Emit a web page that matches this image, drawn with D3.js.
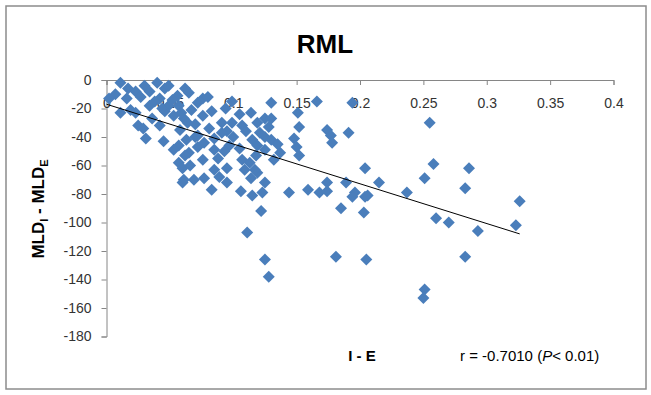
<!DOCTYPE html>
<html>
<head>
<meta charset="utf-8">
<script src="https://cdn.jsdelivr.net/npm/d3@7"></script>
<style>
  body { margin: 0; background: #fff; }
  svg { display: block; }
</style>
</head>
<body>
<script>
// ---- data ----
const xValues = [
  0.011, 0.017, 0.023, 0.030, 0.034, 0.040, 0.046, 0.049, 0.056, 0.062, 0.065, 0.027, 0.007, 0.002,
  0.076, 0.080, 0.072, 0.094, 0.099, 0.130, 0.166, 0.194, 0.042, 0.016,
  0.011, 0.019, 0.023, 0.034, 0.036, 0.046, 0.049, 0.053, 0.061, 0.057, 0.067, 0.076, 0.083, 0.091,
  0.099, 0.105, 0.114, 0.119, 0.125, 0.130, 0.151, 0.152, 0.107, 0.095, 0.025, 0.029, 0.042, 0.070,
  0.058, 0.081,
  0.031, 0.045, 0.063, 0.072, 0.077, 0.085, 0.091, 0.105, 0.115, 0.119, 0.125, 0.130, 0.121, 0.148,
  0.150, 0.152, 0.174, 0.177, 0.178, 0.191, 0.065, 0.076, 0.107, 0.118, 0.125, 0.132, 0.137, 0.097,
  0.085, 0.057, 0.053,
  0.057, 0.060, 0.085, 0.089, 0.095, 0.109, 0.119, 0.061, 0.069, 0.077, 0.060, 0.083, 0.095, 0.106,
  0.115, 0.123, 0.114, 0.125, 0.258, 0.255, 0.204, 0.286, 0.251, 0.174, 0.189, 0.215, 0.283, 0.144,
  0.159, 0.168, 0.174, 0.196, 0.206, 0.237, 0.326, 0.194, 0.204,
  0.185, 0.203, 0.260, 0.270, 0.293, 0.323, 0.122, 0.111, 0.181, 0.205, 0.283, 0.125, 0.128, 0.251,
  0.250,
  0.038, 0.044, 0.052, 0.059, 0.064, 0.070, 0.062, 0.066, 0.072, 0.088, 0.093, 0.100, 0.110, 0.113,
  0.135, 0.128, 0.117
];
const yValues = [
  -2, -6, -8, -4, -8, -2, -6, -4, -11, -6, -9, -12, -10, -13,
  -13, -12, -16, -20, -15, -16, -15, -16, -13, -13,
  -23, -21, -23, -18, -27, -22, -18, -25, -27, -18, -21, -25, -22, -30,
  -30, -24, -23, -30, -27, -27, -23, -33, -32, -36, -32, -34, -32, -31,
  -35, -34,
  -41, -43, -42, -39, -44, -41, -37, -48, -42, -46, -40, -42, -37, -41,
  -47, -53, -35, -39, -44, -37, -51, -56, -56, -53, -49, -56, -51, -46,
  -49, -46, -49,
  -58, -62, -63, -68, -62, -63, -65, -70, -70, -69, -72, -77, -72, -78,
  -81, -79, -69, -72, -59, -30, -62, -62, -69, -72, -72, -72, -76, -79,
  -77, -79, -78, -79, -81, -79, -85, -82, -82,
  -90, -93, -97, -100, -106, -102, -92, -107, -124, -126, -124, -126, -138, -147,
  -153,
  -15, -20, -14, -23, -30, -40, -53, -60, -47, -55, -50, -40, -36, -58,
  -45, -33, -63
];
const xTicks = [0, 0.05, 0.1, 0.15, 0.2, 0.25, 0.3, 0.35, 0.4];
const xTickLabels = ["0", "0.05", "0.1", "0.15", "0.2", "0.25", "0.3", "0.35", "0.4"];
const yTicks = [0, -20, -40, -60, -80, -100, -120, -140, -160, -180];
const trendX = [0, 0.326];
const trendY = [-17, -108];
const titleText = "RML";
const xAxisTitle = "I - E";

// ---- drawing ----
const W = 651, H = 395;
const svg = d3.select("body").append("svg").attr("width", W).attr("height", H);

svg.append("rect").attr("x", 6).attr("y", 6).attr("width", 640).attr("height", 383)
  .attr("fill", "#fff").attr("stroke", "#8c8c8c").attr("stroke-width", 1.5);

const x = d3.scaleLinear().domain([0, 0.4]).range([106.5, 613.5]);
const y = d3.scaleLinear().domain([-180, 0]).range([336.5, 80]);

const font = "'Liberation Sans', Arial, sans-serif";

// title
svg.append("text").attr("x", 325).attr("y", 53).attr("text-anchor", "middle")
  .attr("font-family", font).attr("font-weight", "bold").attr("font-size", 26)
  .attr("fill", "#000").text(titleText);

// y axis
const yAxis = svg.append("g").attr("transform", `translate(${x(0)},0)`)
  .call(d3.axisLeft(y).tickValues(yTicks).tickSize(5).tickPadding(10).tickFormat(d => d));
yAxis.select(".domain").attr("stroke", "#868686");
yAxis.selectAll(".tick line").attr("stroke", "#868686");
yAxis.selectAll("text").attr("font-family", font).attr("font-size", 14).attr("fill", "#333");

// x axis at y=0
const xAxis = svg.append("g").attr("transform", `translate(0,${y(0)})`)
  .call(d3.axisBottom(x).tickValues(xTicks).tickSize(5).tickPadding(13)
    .tickFormat((d, i) => xTickLabels[i]));
xAxis.select(".domain").attr("stroke", "#868686");
xAxis.selectAll(".tick line").attr("stroke", "#868686");
xAxis.selectAll("text").attr("font-family", font).attr("font-size", 14).attr("fill", "#333");

// points
const pts = xValues.map((v, i) => [v, yValues[i]]);
const r = 6;
svg.append("g").selectAll("path").data(pts).join("path")
  .attr("d", d => {
    const cx = x(d[0]), cy = y(d[1]);
    return `M${cx},${cy - r}L${cx + r},${cy}L${cx},${cy + r}L${cx - r},${cy}Z`;
  })
  .attr("fill", "#4a7ebb");

// trend line
svg.append("line")
  .attr("x1", x(trendX[0])).attr("y1", y(trendY[0]))
  .attr("x2", x(trendX[1])).attr("y2", y(trendY[1]))
  .attr("stroke", "#000").attr("stroke-width", 1);

// y axis title
const yt = svg.append("text").attr("transform", "translate(44,209) rotate(-90)")
  .attr("text-anchor", "middle").attr("font-family", font).attr("font-weight", "bold")
  .attr("font-size", 17).attr("fill", "#000");
yt.append("tspan").text("MLD");
yt.append("tspan").attr("font-size", 11).attr("dy", 4).text("I");
yt.append("tspan").attr("dy", -4).text(" - MLD");
yt.append("tspan").attr("font-size", 11).attr("dy", 4).text("E");

// x axis title
svg.append("text").attr("x", 362).attr("y", 361).attr("text-anchor", "middle")
  .attr("font-family", font).attr("font-weight", "bold").attr("font-size", 15)
  .attr("fill", "#000").text(xAxisTitle);

// annotation
const ann = svg.append("text").attr("x", 460).attr("y", 361)
  .attr("font-family", font).attr("font-size", 15).attr("fill", "#000");
ann.append("tspan").text("r = -0.7010 (");
ann.append("tspan").attr("font-style", "italic").text("P");
ann.append("tspan").text("< 0.01)");
</script>
</body>
</html>
